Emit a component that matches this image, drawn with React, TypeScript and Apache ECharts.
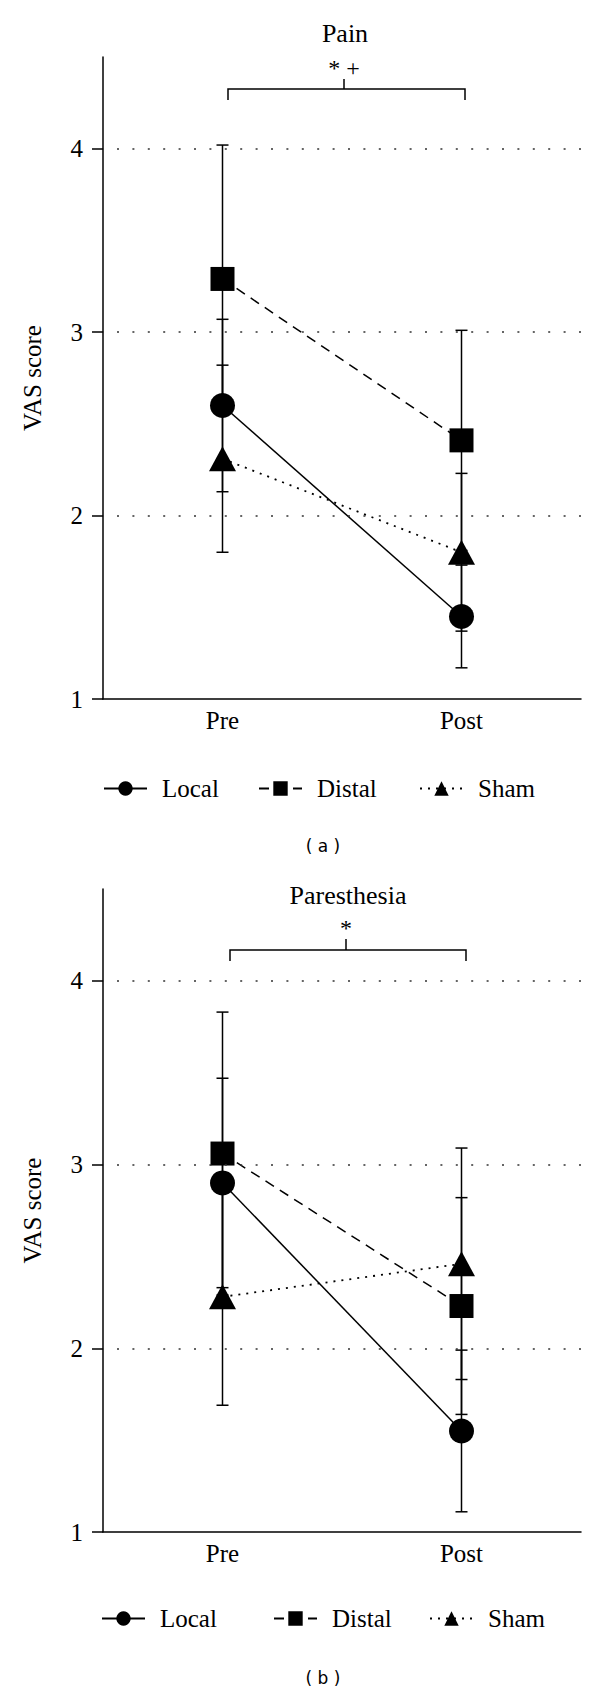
import React, { useEffect, useRef } from 'react';
import * as echarts from 'echarts';

const categories = ['Pre', 'Post'];
const yTicks = [1, 2, 3, 4];
const gridValues = [2, 3, 4];
const seriesNames = ['Local', 'Distal', 'Sham'];

// (a) Pain: means and SD per group, [Pre, Post]
const painLocal = [2.6, 1.45];
const painLocalSD = [0.47, 0.28];
const painDistal = [3.29, 2.41];
const painDistalSD = [0.73, 0.6];
const painSham = [2.31, 1.8];
const painShamSD = [0.51, 0.43];

// (b) Paresthesia
const parLocal = [2.9, 1.55];
const parLocalSD = [0.57, 0.44];
const parDistal = [3.06, 2.23];
const parDistalSD = [0.77, 0.59];
const parSham = [2.28, 2.46];
const parShamSD = [0.59, 0.63];

const SERIF = 'Liberation Serif';
const SANS = 'DejaVu Sans';
const BLACK = '#000';
const FS = 25;

const seriesStyle: Record<string, any> = {
  Local: { symbol: 'circle', symbolSize: 25, lineType: 'solid', width: 1.5 },
  Distal: { symbol: 'rect', symbolSize: 24, lineType: [10, 7], width: 1.5 },
  Sham: { symbol: 'triangle', symbolSize: [27, 25], lineType: [2, 6], width: 1.8 },
};

function errorBars(gridIdx: number, name: string, means: number[], sds: number[]) {
  return {
    type: 'custom',
    name: 'err-' + name + '-' + gridIdx,
    xAxisIndex: gridIdx,
    yAxisIndex: gridIdx,
    z: 2,
    silent: true,
    encode: { x: 0, y: 1 },
    data: categories.map((_, i) => [i, means[i], sds[i]]),
    renderItem: (params: any, api: any) => {
      const x = api.value(0);
      const m = api.value(1);
      const s = api.value(2);
      const hi = api.coord([x, m + s]);
      const lo = api.coord([x, m - s]);
      const w = 6;
      const st = { stroke: BLACK, lineWidth: 1.5 };
      return {
        type: 'group',
        children: [
          { type: 'line', shape: { x1: hi[0], y1: hi[1], x2: lo[0], y2: lo[1] }, style: st },
          { type: 'line', shape: { x1: hi[0] - w, y1: hi[1], x2: hi[0] + w, y2: hi[1] }, style: st },
          { type: 'line', shape: { x1: lo[0] - w, y1: lo[1], x2: lo[0] + w, y2: lo[1] }, style: st },
        ],
      };
    },
  };
}

function lineSeries(gridIdx: number, name: string, means: number[]) {
  const s = seriesStyle[name];
  return {
    type: 'line',
    name,
    xAxisIndex: gridIdx,
    yAxisIndex: gridIdx,
    z: 3,
    data: means,
    symbol: s.symbol,
    symbolSize: s.symbolSize,
    showSymbol: true,
    itemStyle: { color: BLACK },
    lineStyle: { color: BLACK, width: s.width, type: s.lineType },
    emphasis: { disabled: true },
  };
}

function gridLineSeries(gridIdx: number) {
  return {
    type: 'line',
    name: 'grid-' + gridIdx,
    xAxisIndex: gridIdx,
    yAxisIndex: gridIdx,
    z: 0,
    data: ['-', '-'],
    showSymbol: false,
    silent: true,
    markLine: {
      silent: true,
      symbol: ['none', 'none'],
      label: { show: false },
      emphasis: { disabled: true },
      lineStyle: { color: '#333', width: 1.6, type: [2, 13.4], dashOffset: -14 },
      data: gridValues.map((v) => ({ yAxis: v })),
    },
  };
}

function xAxis(gridIdx: number) {
  return {
    type: 'category',
    gridIndex: gridIdx,
    data: categories,
    boundaryGap: true,
    axisLine: { onZero: false, lineStyle: { color: BLACK, width: 1.5 } },
    axisTick: { length: 11, lineStyle: { color: BLACK, width: 1.5 } },
    axisLabel: { margin: 9, fontSize: FS, fontFamily: SERIF, color: BLACK },
    splitLine: { show: false },
  };
}

function yAxis(gridIdx: number) {
  return {
    type: 'value',
    gridIndex: gridIdx,
    min: 1,
    max: 4.5,
    interval: 1,
    axisLine: { show: true, lineStyle: { color: BLACK, width: 1.5 } },
    axisTick: { show: true, length: 11, customValues: yTicks, lineStyle: { color: BLACK, width: 1.5 } },
    axisLabel: {
      customValues: yTicks,
      margin: 20,
      fontSize: FS,
      fontFamily: SERIF,
      color: BLACK,
      formatter: (v: number) => (Number.isInteger(v) ? String(v) : ''),
    },
    splitLine: { show: false },
    name: 'VAS score',
    nameLocation: 'middle',
    nameGap: 58,
    nameTextStyle: { fontSize: FS, fontFamily: SERIF, color: BLACK },
  };
}

function legendItem(name: string, left: number, top: number) {
  return {
    data: [name],
    left,
    top,
    padding: 0,
    itemWidth: 43,
    itemHeight: 18,
    selectedMode: false,
    textStyle: { fontSize: FS, fontFamily: SERIF, color: BLACK, padding: [0, 0, 0, 10] },
  };
}

function bracket(xl: number, xr: number, yTop: number, yEnd: number, xm: number, yMid: number, label: string, labelY: number) {
  const st = { stroke: BLACK, lineWidth: 1.5, fill: 'none' };
  return [
    { type: 'polyline', shape: { points: [[xl, yEnd], [xl, yTop], [xr, yTop], [xr, yEnd]] }, style: st },
    { type: 'line', shape: { x1: xm, y1: yMid, x2: xm, y2: yTop }, style: st },
    {
      type: 'text',
      x: xm,
      y: labelY,
      style: { text: label, fontSize: 24, fontFamily: SERIF, fill: BLACK, align: 'center', verticalAlign: 'middle' },
    },
  ];
}

function textEl(text: string, x: number, y: number, fontSize: number, fontFamily: string) {
  return {
    type: 'text',
    x,
    y,
    style: { text, fontSize, fontFamily, fill: BLACK, align: 'center', verticalAlign: 'middle' },
  };
}

const option: any = {
  animation: false,
  backgroundColor: '#fff',
  grid: [
    { left: 103, right: 19, top: 57, height: 642, containLabel: false },
    { left: 103, right: 19, top: 889, height: 643, containLabel: false },
  ],
  xAxis: [xAxis(0), xAxis(1)],
  yAxis: [yAxis(0), yAxis(1)],
  legend: [
    legendItem('Local', 103, 776),
    legendItem('Distal', 258, 776),
    legendItem('Sham', 419, 776),
    legendItem('Local', 101, 1606),
    legendItem('Distal', 273, 1606),
    legendItem('Sham', 429, 1606),
  ],
  series: [
    gridLineSeries(0),
    gridLineSeries(1),
    errorBars(0, 'Local', painLocal, painLocalSD),
    errorBars(0, 'Distal', painDistal, painDistalSD),
    errorBars(0, 'Sham', painSham, painShamSD),
    errorBars(1, 'Local', parLocal, parLocalSD),
    errorBars(1, 'Distal', parDistal, parDistalSD),
    errorBars(1, 'Sham', parSham, parShamSD),
    lineSeries(0, seriesNames[0], painLocal),
    lineSeries(0, seriesNames[1], painDistal),
    lineSeries(0, seriesNames[2], painSham),
    lineSeries(1, seriesNames[0], parLocal),
    lineSeries(1, seriesNames[1], parDistal),
    lineSeries(1, seriesNames[2], parSham),
  ],
  graphic: [
    textEl('Pain', 345, 33, 26, SERIF),
    ...bracket(228, 465, 89, 100, 344, 79, '* +', 68),
    textEl('( a )', 323, 846, 17, SANS),
    textEl('Paresthesia', 348, 895, 26, SERIF),
    ...bracket(230, 466, 950, 961, 346, 939, '*', 928),
    textEl('( b )', 323, 1678, 17, SANS),
  ],
};

export default function App() {
  const ref = useRef<HTMLDivElement>(null);
  useEffect(() => {
    const chart = echarts.init(ref.current!, null, { renderer: 'svg' });
    chart.setOption(option);
    return () => chart.dispose();
  }, []);
  return (
    <div
      ref={ref}
      style={{ position: 'absolute', left: 0, top: 0, width: 600, height: 1692, background: '#fff' }}
    />
  );
}
